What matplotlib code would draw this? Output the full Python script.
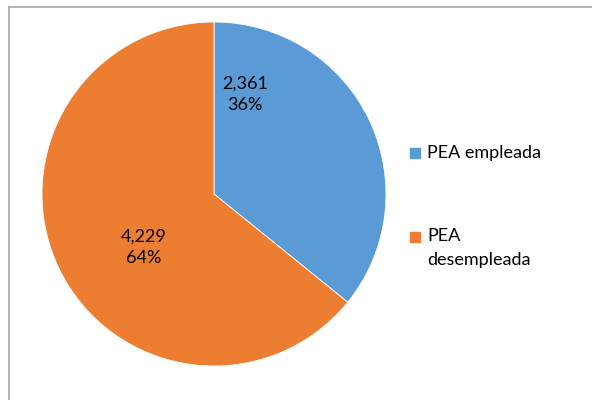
import matplotlib.pyplot as plt
from matplotlib.patches import Rectangle
from matplotlib.lines import Line2D

plt.rcParams['font.family'] = ['Lato', 'DejaVu Sans']

categories = ["PEA empleada", "PEA desempleada"]
legend_labels = ["PEA empleada", "PEA\ndesempleada"]
values = [2361, 4229]
colors = ["#5B9BD5", "#ED7D31"]

fig = plt.figure(figsize=(5.92, 4.0), dpi=100)
W, H = 592, 400

# chart frame (extends past right and bottom edges)
fig.add_artist(Line2D([9 / W, 1.0], [1 - 7 / H, 1 - 7 / H], color="#A6A6A6", lw=1.2))
fig.add_artist(Line2D([9 / W, 9 / W], [1 - 7 / H, 0.0], color="#A6A6A6", lw=1.2))

ax = fig.add_axes([42 / W, 34 / H, 344 / W, 344 / H])
ax.pie(values, colors=colors, startangle=90, counterclock=False,
       wedgeprops=dict(edgecolor="white", linewidth=0.6))
ax.set_xlim(-1, 1)
ax.set_ylim(-1, 1)
ax.set_aspect("equal")

total = sum(values)
label_pos = [(0.18, 0.58), (-0.407, -0.31)]
for v, (x, y) in zip(values, label_pos):
    ax.text(x, y, f"{v:,}\n{v / total:.0%}", ha="center", va="center",
            fontsize=13, linespacing=1.45, color="black")

# legend
legend_y = [153, 237]
for lab, c, y in zip(legend_labels, colors, legend_y):
    fig.add_artist(Rectangle((410 / W, 1 - (y + 5) / H), 10 / W, 10 / H,
                             color=c, transform=fig.transFigure))
    if "\n" in lab:
        fig.text(427 / W, 1 - (y - 9) / H, lab, ha="left", va="top",
                 fontsize=13, linespacing=1.65)
    else:
        fig.text(427 / W, 1 - y / H, lab, ha="left", va="center", fontsize=13)

fig.savefig("out.png", dpi=100)
